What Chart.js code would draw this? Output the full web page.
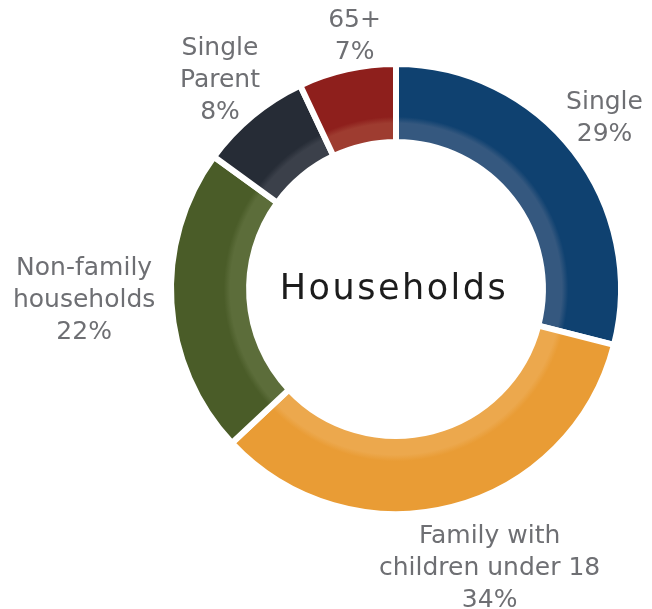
<!DOCTYPE html>
<html>
<head>
<meta charset="utf-8">
<script src="https://cdn.jsdelivr.net/npm/chart.js@4.4.1/dist/chart.umd.min.js"></script>
<style>
  html, body { margin: 0; padding: 0; background: #fff; }
</style>
</head>
<body>
<canvas id="chart" width="652" height="609"></canvas>
<script>
// data
const categories = ['Single', 'Family with\nchildren under 18', 'Non-family\nhouseholds', 'Single\nParent', '65+'];
const shares = [29, 34, 22, 8, 7];
const centerTitle = 'Households';

const baseColors = ['#0f4170', '#e99c35', '#4a5c28', '#262c36', '#8e1f1c'];
const lightColors = ['#35587f', '#eca84d', '#5c6d3a', '#3b404a', '#9e3c30'];

// label spot per slice: angle (deg, clockwise from top) and distance past the ring
const labelSpots = [[50.3, 46], [161.3, 67], [268.5, 87], [320.2, 50], [350.8, 34]];

const CUTOUT = 0.653;
const GAP = 6;

// lighter band along the inner edge of the ring
function ringFill(c) {
  const chart = c.chart;
  const area = chart.chartArea;
  const i = c.dataIndex;
  if (!area) return baseColors[i];
  const cx = (area.left + area.right) / 2;
  const cy = (area.top + area.bottom) / 2;
  const maxR = (Math.min(area.width, area.height) - GAP) / 2;
  const outer = maxR - GAP / 2;
  const inner = maxR * CUTOUT + GAP / 2;
  const g = chart.ctx.createRadialGradient(cx, cy, inner, cx, cy, outer);
  g.addColorStop(0, lightColors[i]);
  g.addColorStop(0.22, lightColors[i]);
  g.addColorStop(0.31, baseColors[i]);
  g.addColorStop(1, baseColors[i]);
  return g;
}

const labelPlugin = {
  id: 'sliceLabels',
  afterDatasetsDraw(chart) {
    const ctx = chart.ctx;
    const meta = chart.getDatasetMeta(0);
    ctx.save();
    ctx.textAlign = 'center';
    ctx.textBaseline = 'middle';
    ctx.font = '25px "DejaVu Sans"';
    ctx.fillStyle = '#6e6f73';
    meta.data.forEach((arc, i) => {
      const [deg, extra] = labelSpots[i];
      const a = deg * Math.PI / 180;
      const r = arc.outerRadius + extra;
      const x = arc.x + r * Math.sin(a);
      const y = arc.y - r * Math.cos(a) + 3;
      const lines = categories[i].split('\n').concat(shares[i] + '%');
      lines.forEach((t, k) => {
        ctx.fillText(t, x, y + (k - (lines.length - 1) / 2) * 32);
      });
    });
    const c0 = meta.data[0];
    ctx.font = '35px "DejaVu Sans"';
    ctx.letterSpacing = '2.5px';
    ctx.fillStyle = '#1c1c1c';
    ctx.fillText(centerTitle, c0.x - 2, c0.y + 1);
    ctx.restore();
  }
};

new Chart(document.getElementById('chart'), {
  type: 'doughnut',
  data: {
    labels: categories,
    datasets: [{
      data: shares,
      backgroundColor: ringFill,
      borderColor: '#ffffff',
      borderWidth: GAP,
      hoverBorderWidth: GAP,
      borderJoinStyle: 'miter'
    }]
  },
  options: {
    responsive: false,
    animation: false,
    cutout: (CUTOUT * 100) + '%',
    layout: { padding: { left: 168, top: 61, right: 28, bottom: 92 } },
    plugins: {
      legend: { display: false },
      tooltip: { enabled: false }
    }
  },
  plugins: [labelPlugin]
});
</script>
</body>
</html>
